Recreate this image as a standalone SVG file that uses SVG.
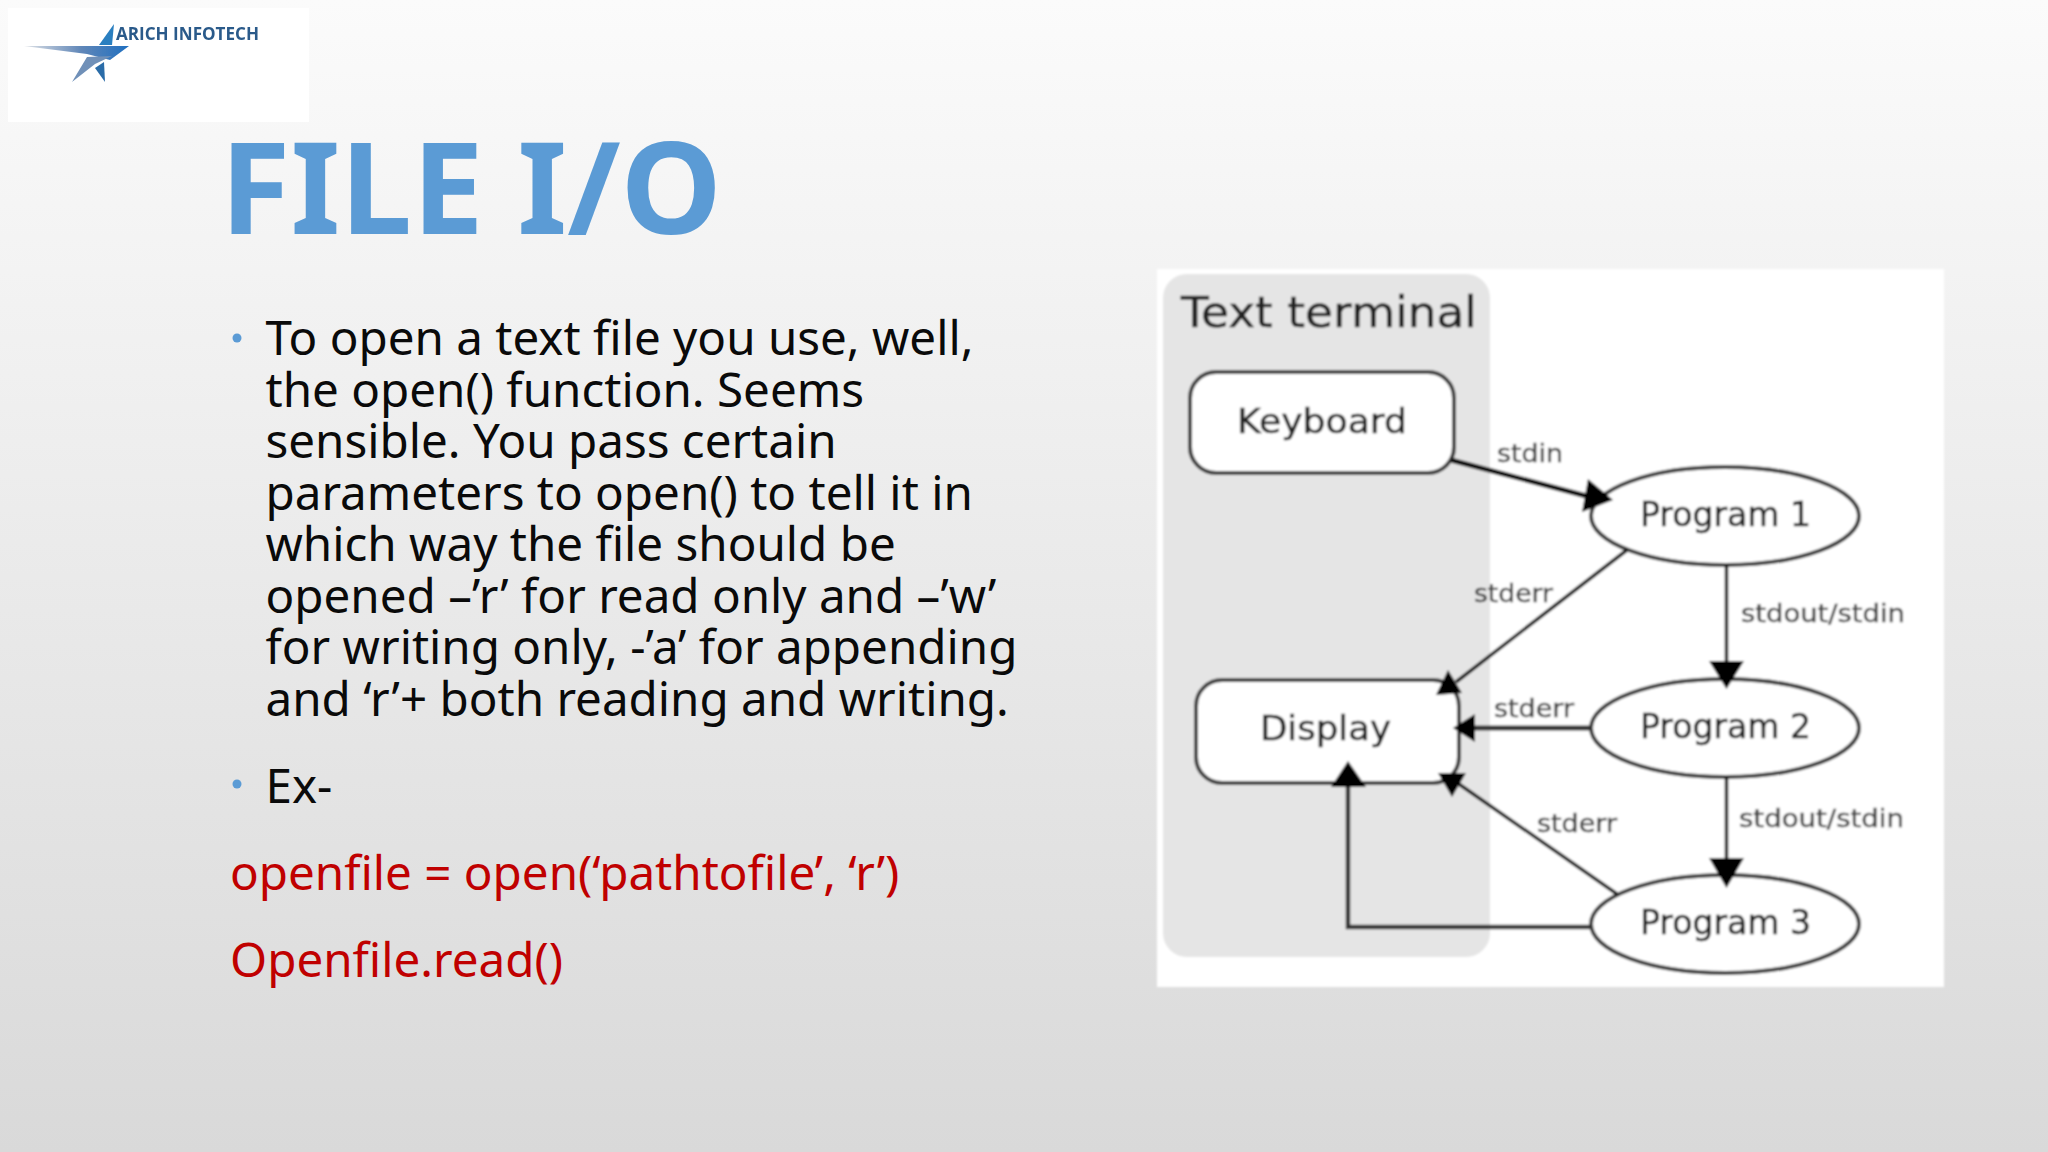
<svg xmlns="http://www.w3.org/2000/svg" width="2048" height="1152" viewBox="0 0 2048 1152">
<defs>
<linearGradient id="bg" x1="0" y1="0" x2="0" y2="1"><stop offset="0" stop-color="#fbfbfb"/><stop offset="1" stop-color="#d9d9d9"/></linearGradient>
<linearGradient id="tail" x1="0" y1="0" x2="1" y2="0"><stop offset="0" stop-color="#dfe2e6"/><stop offset="0.55" stop-color="#5f86b8"/><stop offset="1" stop-color="#1f6fc0"/></linearGradient>
<filter id="soft" x="-2%" y="-2%" width="104%" height="104%"><feGaussianBlur stdDeviation="0.9"/></filter>
<filter id="soft2" x="-5%" y="-5%" width="110%" height="110%"><feGaussianBlur stdDeviation="0.7"/></filter>
</defs>
<style>
.body{font-family:"Noto Sans","Open Sans",sans-serif;font-size:47.56px;fill:#0a0a0a}
.code{fill:#c00000}
.dj{font-family:"DejaVu Sans",sans-serif;fill:#222;stroke:#222;stroke-width:0.5}
.node{font-size:33px}
.lab{font-size:24px;fill:#444;stroke:#444;stroke-width:0.4}
.shape{fill:#fff;stroke:#3c3c3c;stroke-width:4}
.c{fill:none;stroke:#111}
.g{stroke:#333}
.h{fill:#000}
</style>
<rect width="2048" height="1152" fill="url(#bg)"/>
<g id="logo" filter="url(#soft2)">
<rect x="8" y="8" width="301" height="114" fill="#fff"/>
<polygon points="24,46 129,46 110,60 87,54" fill="url(#tail)"/>
<polygon points="114,24 99,45 112,45" fill="#2a7fc0"/>
<polygon points="72,82 87,57 112,56 95,64" fill="#6f90b8"/>
<polygon points="95,68 104,62 105,82" fill="#2b6ca8"/>
<text x="116" y="40" font-family="'Open Sans','Noto Sans',sans-serif" font-weight="700" font-size="18" fill="#2a5a8a" textLength="143" lengthAdjust="spacingAndGlyphs">ARICH INFOTECH</text>
</g>
<text id="title" x="220" y="234" font-family="'Noto Sans','Open Sans',sans-serif" font-weight="700" font-size="128.3" fill="#5b9bd5">FILE I/O</text>
<g id="content">
<circle cx="237" cy="338" r="4.5" fill="#5b9bd5"/>
<circle cx="237" cy="784" r="4.5" fill="#5b9bd5"/>
<text class="body" x="265.5" y="355">To open a text file you use, well,</text>
<text class="body" x="265.5" y="406.5">the open() function. Seems</text>
<text class="body" x="265.5" y="458">sensible. You pass certain</text>
<text class="body" x="265.5" y="509.5">parameters to open() to tell it in</text>
<text class="body" x="265.5" y="561">which way the file should be</text>
<text class="body" x="265.5" y="612.5">opened –’r’ for read only and –’w’</text>
<text class="body" x="265.5" y="664">for writing only, -’a’ for appending</text>
<text class="body" x="265.5" y="715.5">and ‘r’+ both reading and writing.</text>
<text class="body" x="265.5" y="803">Ex-</text>
<text class="body code" x="230" y="890">openfile = open(‘pathtofile’, ‘r’)</text>
<text class="body code" x="230" y="977">Openfile.read()</text>
</g>
<g id="diagram" filter="url(#soft)">
<rect x="1157" y="269" width="787" height="718" fill="#fff"/>
<g id="terminal">
<rect x="1163" y="274" width="327" height="683" rx="24" fill="#e5e5e5"/>
<text class="dj" x="1181" y="327" font-size="42" textLength="296" lengthAdjust="spacingAndGlyphs">Text terminal</text>
</g>
<g id="keyboard"><rect class="shape" x="1190" y="372" width="264" height="101" rx="26"/><text class="dj node" x="1237" y="433" textLength="170" lengthAdjust="spacingAndGlyphs">Keyboard</text></g>
<g id="display"><rect class="shape" x="1196" y="680" width="263" height="103" rx="26"/><text class="dj node" x="1260" y="740" textLength="131" lengthAdjust="spacingAndGlyphs">Display</text></g>
<g id="program1"><ellipse class="shape" cx="1725" cy="516" rx="134" ry="49"/><text class="dj node" x="1640" y="526" textLength="171" lengthAdjust="spacingAndGlyphs">Program 1</text></g>
<g id="program2"><ellipse class="shape" cx="1725" cy="728" rx="134" ry="49"/><text class="dj node" x="1640" y="738" textLength="171" lengthAdjust="spacingAndGlyphs">Program 2</text></g>
<g id="program3"><ellipse class="shape" cx="1725" cy="924" rx="134" ry="49"/><text class="dj node" x="1640" y="934" textLength="171" lengthAdjust="spacingAndGlyphs">Program 3</text></g>
<g id="connectors">
<path class="c" stroke-width="5" d="M1451 460L1590 497"/>
<polygon class="h" points="1588,479 1613,500 1582,512"/>
<path class="c" stroke-width="3.5" d="M1627 550L1456 682"/>
<polygon class="h" points="1448,670 1436,695 1462,693"/>
<path class="c" stroke-width="3.5" d="M1726.5 565V670"/>
<polygon class="h" points="1709,661 1744,661 1726.5,689"/>
<path class="c g" stroke-width="5" d="M1591 728H1470"/>
<polygon class="h" points="1475,714 1475,742 1453,728"/>
<path class="c" stroke-width="3.5" d="M1726.5 777V865"/>
<polygon class="h" points="1709,858 1744,858 1726.5,888"/>
<path class="c" stroke-width="3.5" d="M1617 894L1456 782"/>
<polygon class="h" points="1438,773 1466,773 1452,797"/>
<path class="c g" stroke-width="4.5" d="M1591 927H1348V785"/>
<polygon class="h" points="1331,787 1366,787 1348,761"/>
</g>
<g id="labels">
<text class="dj lab" x="1497" y="462" textLength="66" lengthAdjust="spacingAndGlyphs">stdin</text>
<text class="dj lab" x="1474" y="602" textLength="79" lengthAdjust="spacingAndGlyphs">stderr</text>
<text class="dj lab" x="1741" y="622" textLength="164" lengthAdjust="spacingAndGlyphs">stdout/stdin</text>
<text class="dj lab" x="1494" y="717" textLength="80" lengthAdjust="spacingAndGlyphs">stderr</text>
<text class="dj lab" x="1739" y="827" textLength="165" lengthAdjust="spacingAndGlyphs">stdout/stdin</text>
<text class="dj lab" x="1537" y="832" textLength="80" lengthAdjust="spacingAndGlyphs">stderr</text>
</g>
</g>
</svg>
